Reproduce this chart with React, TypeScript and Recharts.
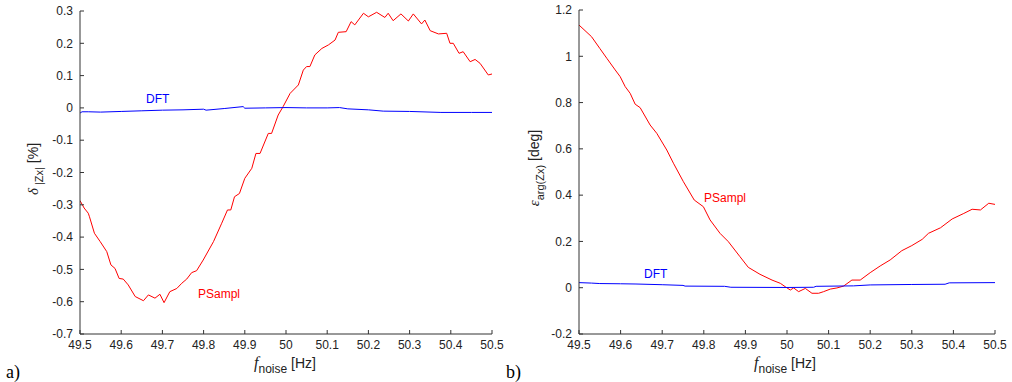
import { LineChart, Line, XAxis, YAxis } from "recharts"

// shared x axis (noise frequency, Hz)
const freqTicks = [49.5, 49.6, 49.7, 49.8, 49.9, 50, 50.1, 50.2, 50.3, 50.4, 50.5]

// panel a) magnitude error, %
const magTicks = [-0.7, -0.6, -0.5, -0.4, -0.3, -0.2, -0.1, 0, 0.1, 0.2, 0.3]
const magPsamplF = [
  49.5, 49.51, 49.52, 49.523, 49.535, 49.549, 49.565, 49.575, 49.585, 49.595, 49.605,
  49.617, 49.634, 49.654, 49.666, 49.682, 49.694, 49.704, 49.718, 49.735, 49.747, 49.759,
  49.771, 49.783, 49.799, 49.824, 49.844, 49.858, 49.866, 49.875, 49.887, 49.9, 49.917,
  49.927, 49.937, 49.957, 49.965, 49.981, 49.993, 50.01, 50.03, 50.042, 50.05, 50.058,
  50.07, 50.087, 50.103, 50.119, 50.127, 50.146, 50.158, 50.167, 50.188, 50.2, 50.22,
  50.24, 50.248, 50.26, 50.279, 50.297, 50.309, 50.329, 50.337, 50.35, 50.37, 50.39,
  50.398, 50.406, 50.42, 50.43, 50.447, 50.459, 50.471, 50.491, 50.5,
]
const magPsamplV = [
  -0.287, -0.31, -0.326, -0.337, -0.388, -0.414, -0.445, -0.486, -0.497, -0.528, -0.53,
  -0.548, -0.584, -0.597, -0.579, -0.589, -0.577, -0.603, -0.569, -0.559, -0.543, -0.53,
  -0.51, -0.504, -0.471, -0.414, -0.357, -0.316, -0.316, -0.275, -0.265, -0.218, -0.187,
  -0.141, -0.141, -0.079, -0.079, -0.022, 0.004, 0.045, 0.071, 0.117, 0.128, 0.128,
  0.164, 0.184, 0.195, 0.21, 0.234, 0.236, 0.267, 0.257, 0.293, 0.282, 0.296,
  0.28, 0.293, 0.27, 0.291, 0.269, 0.291, 0.26, 0.272, 0.239, 0.229, 0.231,
  0.2, 0.2, 0.169, 0.174, 0.143, 0.15, 0.138, 0.102, 0.105,
]
const magDftF = [
  49.5, 49.505, 49.52, 49.55, 49.6, 49.65, 49.7, 49.75, 49.8, 49.806, 49.85, 49.896,
  49.9, 49.95, 50, 50.05, 50.1, 50.13, 50.15, 50.2, 50.236, 50.3, 50.376, 50.45, 50.5,
]
const magDftV = [
  -0.016, -0.012, -0.012, -0.013, -0.011, -0.009, -0.007, -0.006, -0.004, -0.007, -0.002,
  0.004, -0.001, 0, 0.001, 0, 0, 0.001, -0.003, -0.006, -0.01, -0.011, -0.014, -0.014, -0.014,
]

// panel b) phase error, deg
const phaseTicks = [-0.2, 0, 0.2, 0.4, 0.6, 0.8, 1, 1.2]
const phasePsamplF = [
  49.5, 49.53, 49.55, 49.567, 49.587, 49.599, 49.611, 49.623, 49.635, 49.647, 49.671,
  49.687, 49.711, 49.727, 49.751, 49.777, 49.799, 49.815, 49.839, 49.859, 49.887, 49.907,
  49.935, 49.964, 49.984, 49.996, 50.008, 50.016, 50.028, 50.044, 50.06, 50.076, 50.088,
  50.104, 50.12, 50.136, 50.156, 50.176, 50.2, 50.224, 50.248, 50.276, 50.3, 50.325,
  50.34, 50.369, 50.397, 50.425, 50.445, 50.465, 50.485, 50.5,
]
const phasePsamplV = [
  1.135, 1.085, 1.034, 0.991, 0.941, 0.912, 0.869, 0.84, 0.793, 0.778, 0.703,
  0.667, 0.595, 0.538, 0.458, 0.379, 0.35, 0.293, 0.235, 0.199, 0.134, 0.088,
  0.058, 0.033, 0.019, 0.004, -0.01, -0.001, -0.017, -0.003, -0.024, -0.024, -0.017,
  -0.006, -0.001, 0.007, 0.033, 0.033, 0.065, 0.094, 0.12, 0.16, 0.182, 0.209,
  0.235, 0.259, 0.297, 0.321, 0.339, 0.336, 0.365, 0.36,
]
const phaseDftF = [
  49.5, 49.53, 49.55, 49.6, 49.637, 49.7, 49.75, 49.755, 49.85, 49.865, 50, 50.064,
  50.07, 50.16, 50.2, 50.3, 50.38, 50.39, 50.5,
]
const phaseDftV = [
  0.022, 0.02, 0.018, 0.017, 0.016, 0.013, 0.01, 0.007, 0.006, 0.002, 0.001, 0.002,
  0.006, 0.008, 0.012, 0.014, 0.015, 0.021, 0.022,
]

const zip = (fs: number[], vs: number[]) => fs.map((f, i) => ({ f, v: vs[i] }))

const tickFont = { fill: "#222", fontSize: 12, fontFamily: "Liberation Sans, Arial, sans-serif" }
const sans = "Liberation Sans, Arial, sans-serif"
const serif = "Liberation Serif, Times New Roman, serif"

type PanelProps = {
  left: number
  marginLeft: number
  marginRight: number
  marginTop: number
  domain: [number, number]
  ticks: number[]
  psampl: { f: number; v: number }[]
  dft: { f: number; v: number }[]
}

const Panel = ({ left, marginLeft, marginRight, marginTop, domain, ticks, psampl, dft }: PanelProps) => (
  <div style={{ position: "absolute", left, top: 0 }}>
    <LineChart
      width={506}
      height={382}
      margin={{ top: marginTop, right: marginRight, bottom: 18, left: marginLeft }}
    >
      <XAxis
        dataKey="f"
        type="number"
        domain={[49.5, 50.5]}
        ticks={freqTicks}
        allowDataOverflow
        height={30}
        tickSize={-4}
        tickMargin={10}
        tick={tickFont}
        stroke="#333"
        interval={0}
      />
      <YAxis
        dataKey="v"
        type="number"
        domain={domain}
        ticks={ticks}
        allowDataOverflow
        width={40}
        tickSize={-4}
        tickMargin={11}
        tick={tickFont}
        stroke="#333"
        interval={0}
      />
      <Line
        data={psampl}
        dataKey="v"
        type="linear"
        stroke="#ff0000"
        strokeWidth={1}
        dot={false}
        isAnimationActive={false}
      />
      <Line
        data={dft}
        dataKey="v"
        type="linear"
        stroke="#0000ff"
        strokeWidth={1}
        dot={false}
        isAnimationActive={false}
      />
    </LineChart>
  </div>
)

const XTitle = ({ x }: { x: number }) => (
  <text x={x} y={368} textAnchor="middle" fill="#222" fontFamily={sans} fontSize={14}>
    <tspan fontFamily={serif} fontStyle="italic" fontSize={16}>f</tspan>
    <tspan fontSize={12} dy={5}>noise</tspan>
    <tspan dy={-5}> [Hz]</tspan>
  </text>
)

export default function App() {
  return (
    <div style={{ position: "absolute", left: 0, top: 0, width: 1012, height: 382, background: "#fff" }}>
      <Panel
        left={0}
        marginLeft={40}
        marginRight={14}
        marginTop={11}
        domain={[-0.7, 0.3]}
        ticks={magTicks}
        psampl={zip(magPsamplF, magPsamplV)}
        dft={zip(magDftF, magDftV)}
      />
      <Panel
        left={506}
        marginLeft={33}
        marginRight={17}
        marginTop={10}
        domain={[-0.2, 1.2]}
        ticks={phaseTicks}
        psampl={zip(phasePsamplF, phasePsamplV)}
        dft={zip(phaseDftF, phaseDftV)}
      />
      <svg
        width={1012}
        height={382}
        style={{ position: "absolute", left: 0, top: 0, pointerEvents: "none" }}
      >
        {/* series annotations */}
        <text x={146} y={103} fill="#0000ff" fontFamily={sans} fontSize={12}>DFT</text>
        <text x={198} y={298} fill="#ff0000" fontFamily={sans} fontSize={12}>PSampl</text>
        <text x={704} y={202} fill="#ff0000" fontFamily={sans} fontSize={12}>PSampl</text>
        <text x={644} y={278} fill="#0000ff" fontFamily={sans} fontSize={12}>DFT</text>

        {/* axis titles */}
        <XTitle x={285} />
        <XTitle x={785} />
        <text
          transform="translate(38,169) rotate(-90)"
          textAnchor="middle"
          fill="#222"
          fontFamily={sans}
          fontSize={14}
        >
          <tspan fontFamily={serif} fontStyle="italic" fontSize={15}>δ</tspan>
          <tspan fontSize={11} dy={5}> |Zx|</tspan>
          <tspan dy={-5}> [%]</tspan>
        </text>
        <text
          transform="translate(539,168) rotate(-90)"
          textAnchor="middle"
          fill="#222"
          fontFamily={sans}
          fontSize={14}
        >
          <tspan fontFamily={serif} fontStyle="italic" fontSize={15}>ε</tspan>
          <tspan fontSize={11} dy={5}>arg(Zx)</tspan>
          <tspan dy={-5}> [deg]</tspan>
        </text>

        {/* panel letters */}
        <text x={6} y={378} fill="#000" fontFamily={serif} fontSize={18}>a)</text>
        <text x={506} y={378} fill="#000" fontFamily={serif} fontSize={18}>b)</text>
      </svg>
    </div>
  )
}
